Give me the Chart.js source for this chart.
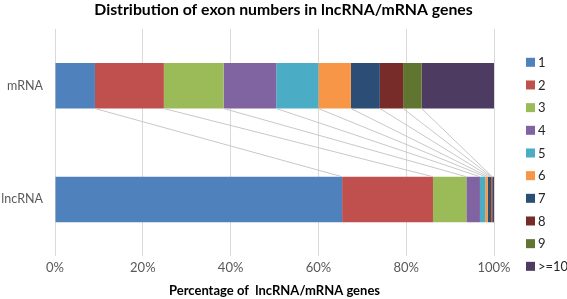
<!DOCTYPE html>
<html>
<head>
<meta charset="utf-8">
<script src="https://cdn.jsdelivr.net/npm/chart.js@4"></script>
<style>
  html, body { margin: 0; padding: 0; background: #fff; }
  #wrap { width: 567px; height: 299px; }
</style>
</head>
<body>
<div id="wrap"><canvas id="exonChart" width="567" height="299"></canvas></div>
<script>
// exon count distribution, percent of genes
const genes = ['mRNA', 'lncRNA'];
const exonClasses = ['1', '2', '3', '4', '5', '6', '7', '8', '9', '>=10'];
const mrnaPct   = [9.1, 15.7, 13.6, 12.0, 9.6, 7.4, 6.6, 5.3, 4.2, 16.5];
const lncrnaPct = [65.4, 20.7, 7.6, 3.1, 1.2, 0.6, 0.5, 0.3, 0.2, 0.4];
const xTicks = [0, 20, 40, 60, 80, 100];
const colors = ['#4F81BD', '#C0504D', '#9BBB59', '#8064A2', '#4BACC6',
                '#F79646', '#2C4D75', '#772C2A', '#5F7530', '#4D3B62'];

const FONT = 'Lato, "Open Sans", sans-serif';

// thin grey connectors between matching segment edges of the two bars
const connectors = {
  id: 'connectors',
  afterDatasetsDraw(chart) {
    const ctx = chart.ctx;
    ctx.save();
    ctx.strokeStyle = '#c8c8c8';
    ctx.lineWidth = 1;
    for (let i = 0; i < exonClasses.length - 1; i++) {
      const meta = chart.getDatasetMeta(i);
      const top = meta.data[0], bottom = meta.data[1];
      ctx.beginPath();
      ctx.moveTo(top.x, top.y + top.height / 2);
      ctx.lineTo(bottom.x, bottom.y - bottom.height / 2);
      ctx.stroke();
    }
    ctx.restore();
  }
};

// excel-style legend column on the right, tight box/text spacing
const sideLegend = {
  id: 'sideLegend',
  afterDraw(chart) {
    const ctx = chart.ctx;
    ctx.save();
    ctx.font = '13px ' + FONT;
    ctx.textBaseline = 'middle';
    ctx.textAlign = 'left';
    chart.data.datasets.forEach((ds, i) => {
      const y = 62.3 + i * 22.67;
      ctx.fillStyle = ds.backgroundColor;
      ctx.fillRect(526, y - 4.5, 9, 9);
      ctx.fillStyle = '#262626';
      ctx.fillText(ds.label, 538, y + 0.5);
    });
    ctx.restore();
  }
};

const ctx = document.getElementById('exonChart').getContext('2d');

new Chart(ctx, {
  type: 'bar',
  data: {
    labels: genes,
    datasets: exonClasses.map((c, i) => ({
      label: c,
      data: [mrnaPct[i], lncrnaPct[i]],
      xAxisID: 'x',
      yAxisID: 'y',
      backgroundColor: colors[i],
      borderWidth: 0,
      barPercentage: 0.5,
      categoryPercentage: 0.8
    }))
  },
  options: {
    indexAxis: 'y',
    responsive: false,
    animation: false,
    layout: { padding: 0 },
    plugins: {
      title: {
        display: true,
        text: 'Distribution of exon numbers in lncRNA/mRNA genes',
        color: '#000',
        font: { family: FONT, size: 15.8, weight: 'bold' },
        padding: { top: 0, bottom: 10 }
      },
      legend: { display: false },
      tooltip: { enabled: false }
    },
    scales: {
      x: {
        stacked: true,
        min: 0,
        max: 100,
        afterBuildTicks: axis => { axis.ticks = xTicks.map(v => ({ value: v })); },
        grid: { color: '#d9d9d9', drawTicks: false },
        border: { display: false },
        ticks: {
          padding: 4,
          color: '#595959',
          font: { family: FONT, size: 13 },
          callback: v => v + '%'
        },
        title: {
          display: true,
          text: 'Percentage of  lncRNA/mRNA genes',
          color: '#000',
          font: { family: FONT, size: 13, weight: 'bold' },
          padding: { top: 3.5, bottom: 0 }
        }
      },
      y: {
        stacked: true,
        afterFit: axis => { axis.width = 55; },
        grid: { display: false, drawTicks: false },
        border: { display: false },
        ticks: {
          padding: 12,
          color: '#595959',
          font: { family: FONT, size: 12.5 }
        }
      },
      // empty right-hand axis, only reserves room for the legend column
      legendRoom: {
        type: 'category',
        labels: genes,
        position: 'right',
        afterFit: axis => { axis.width = 73; },
        grid: { display: false },
        border: { display: false },
        ticks: { display: false }
      }
    }
  },
  plugins: [connectors, sideLegend]
});
</script>
</body>
</html>
